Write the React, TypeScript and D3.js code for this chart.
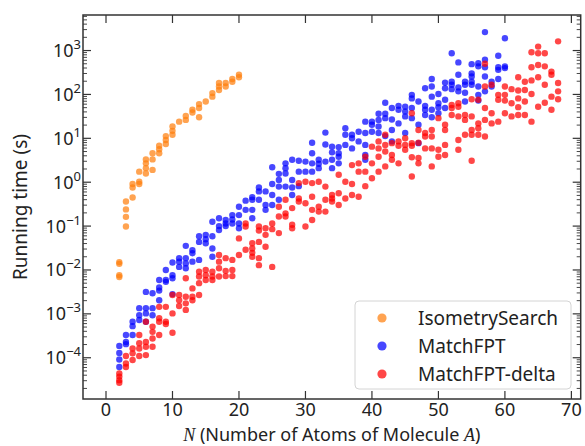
import React from "react";
import * as d3 from "d3";

// values are log10(running time in seconds), grouped by N
const isometryLog: [number, number[]][] = [
  [2, [-1.82, -1.86, -2.12, -2.16]],
  [3, [-0.44, -0.62, -0.79, -1.01]],
  [4, [-0.04, -0.12, -0.35]],
  [5, [0.24, 0.01, -0.04]],
  [6, [0.52, 0.43, 0.32, 0.2]],
  [7, [0.66, 0.52, 0.28]],
  [8, [0.83, 0.75, 0.66]],
  [9, [1.05, 0.96, 0.87]],
  [10, [1.27, 1.17, 1.08]],
  [11, [1.38]],
  [12, [1.51, 1.42]],
  [13, [1.65, 1.59]],
  [14, [1.78, 1.69, 1.48]],
  [15, [1.84]],
  [16, [2.03, 1.95]],
  [17, [2.26, 2.18, 2.1]],
  [18, [2.26, 2.18]],
  [19, [2.35, 2.29]],
  [20, [2.45, 2.39]],
];

const matchFptLog: [number, number[]][] = [
  [2, [-3.73, -3.89, -4.04, -4.21]],
  [3, [-3.48, -3.64, -3.69]],
  [4, [-3.18, -3.28, -3.48]],
  [5, [-2.87, -3.03, -3.14]],
  [6, [-2.5, -2.87, -2.99, -3.18]],
  [7, [-2.53, -2.87, -3.03]],
  [8, [-2.23, -2.4, -2.47, -2.69]],
  [9, [-2.0, -2.23, -2.27]],
  [10, [-1.83, -2.12, -2.19, -2.55]],
  [11, [-1.73, -1.81, -1.93]],
  [12, [-1.45, -1.73, -1.85, -1.96]],
  [13, [-1.55, -1.62, -1.81]],
  [14, [-1.23, -1.36, -1.77]],
  [15, [-1.2, -1.3, -1.39]],
  [16, [-0.9, -1.23, -1.51, -1.7]],
  [17, [-0.82, -1.0, -1.09]],
  [18, [-0.86, -0.94, -1.0]],
  [19, [-0.75, -0.85, -0.94]],
  [20, [-0.56, -0.75, -0.94, -1.05]],
  [21, [-0.42, -0.63]],
  [22, [-0.34, -0.4, -0.63, -0.82]],
  [23, [-0.12, -0.21, -0.4]],
  [24, [-0.21, -0.52, -0.63]],
  [25, [0.34, -0.04, -0.29, -0.52]],
  [26, [0.19, 0.05, -0.1, -0.4]],
  [27, [0.43, 0.32, 0.2, -0.1]],
  [28, [0.51, 0.05, -0.12, -0.29]],
  [29, [0.49, 0.24, -0.09]],
  [30, [0.47, 0.24]],
  [31, [0.9, 0.66, 0.43, 0.24]],
  [32, [0.51, 0.42, 0.32]],
  [33, [1.13, 0.86, 0.47]],
  [34, [0.81, 0.68, 0.51, 0.32]],
  [35, [0.8, 0.66, 0.58, 0.43]],
  [36, [1.23, 1.08, 0.85]],
  [37, [1.08, 1.0, 0.77]],
  [38, [1.15, 0.93]],
  [39, [1.38, 1.12, 0.85, 0.62, 0.51]],
  [40, [1.38, 1.31, 1.15]],
  [41, [1.56, 1.42, 1.27, 1.12]],
  [42, [1.81, 1.56, 1.46, 1.05]],
  [43, [1.69, 1.43, 1.19, 0.93]],
  [44, [1.74, 1.65, 1.34]],
  [45, [1.72, 1.61, 1.5, 1.12]],
  [46, [1.99, 1.91, 1.69, 1.46]],
  [47, [1.84, 1.31, 0.89]],
  [48, [2.14, 1.74, 1.65, 1.53]],
  [49, [2.35, 2.18, 1.95, 1.65, 1.48]],
  [50, [2.01, 1.8, 1.71, 1.57]],
  [51, [2.27, 2.14, 1.88, 1.69]],
  [52, [2.94, 2.29, 2.22, 2.12]],
  [53, [2.73, 2.45, 2.16, 2.07]],
  [54, [2.29, 2.22, 2.04, 1.84]],
  [55, [2.69, 2.48, 2.41, 2.29, 2.22]],
  [56, [2.71, 2.64, 2.18, 1.99, 1.86]],
  [57, [3.42, 2.79, 2.62, 2.41, 2.07]],
  [58, [2.29, 2.18]],
  [59, [2.88, 2.62, 2.56, 2.35]],
  [60, [3.28, 2.64, 2.6]],
];

const matchFptDeltaLog: [number, number[]][] = [
  [2, [-4.36, -4.43, -4.51, -4.57]],
  [3, [-3.96, -4.13, -4.21]],
  [4, [-3.79, -3.9, -4.05]],
  [5, [-3.48, -3.67, -3.79, -3.96]],
  [6, [-3.18, -3.64, -3.75, -3.94]],
  [7, [-3.29, -3.41, -3.56, -3.75]],
  [8, [-2.84, -3.1, -3.18, -3.48]],
  [9, [-2.84, -3.18, -3.23]],
  [10, [-2.57, -2.99, -3.43]],
  [11, [-2.57, -2.69, -2.82]],
  [12, [-2.19, -2.61, -2.76, -2.91]],
  [13, [-2.42, -2.61, -2.69]],
  [14, [-2.04, -2.15, -2.3, -2.57]],
  [15, [-2.0, -2.12, -2.23]],
  [16, [-2.04, -2.15, -2.23]],
  [17, [-1.66, -1.81, -1.96, -2.15]],
  [18, [-1.73, -2.02, -2.14]],
  [19, [-1.77, -2.0, -2.14]],
  [20, [-1.28, -1.66]],
  [21, [-0.94, -1.01, -1.54]],
  [22, [-1.39, -1.51, -1.61, -1.7]],
  [23, [-1.01, -1.1, -1.36, -1.73, -1.89]],
  [24, [-1.05, -1.2, -1.47]],
  [25, [-0.94, -1.07, -1.93]],
  [26, [-0.56, -0.78, -1.16]],
  [27, [-0.4, -0.71, -0.78]],
  [28, [-0.59, -0.97, -1.05]],
  [29, [-0.02, -0.37, -0.44]],
  [30, [0.01, -0.48, -1.01]],
  [31, [-0.02, -0.33, -0.63, -0.86]],
  [32, [0.01, -0.56, -0.67]],
  [33, [-0.1, -0.4, -0.67]],
  [34, [-0.29, -0.37, -0.44]],
  [35, [0.17, -0.25, -0.52]],
  [36, [0.01, -0.37]],
  [37, [0.39, -0.04, -0.29]],
  [38, [0.43, 0.24, -0.33]],
  [39, [0.58, 0.24, -0.09]],
  [40, [0.81, 0.43, 0.09]],
  [41, [0.93, 0.77, 0.58, 0.24]],
  [42, [1.08, 0.85, 0.7, 0.36]],
  [43, [0.89, 0.62, 0.51]],
  [44, [0.93, 0.83, 0.43]],
  [45, [1.0, 0.85, 0.74]],
  [46, [1.57, 0.89, 0.83, 0.57, 0.13]],
  [47, [1.19, 0.9, 0.55, 0.43]],
  [48, [1.12, 1.04, 0.77]],
  [49, [1.19, 1.04, 0.77, 0.36]],
  [50, [1.46, 0.74, 0.58]],
  [51, [1.31, 1.19, 0.85, 0.62]],
  [52, [1.76, 1.69, 1.53]],
  [53, [1.8, 1.72, 1.5, 0.96, 0.74]],
  [54, [1.53, 1.42, 1.08]],
  [55, [1.89, 1.5, 1.19, 1.08, 0.49]],
  [56, [1.88, 1.34, 1.23, 1.08]],
  [57, [2.7, 2.18, 1.69, 1.42, 1.04]],
  [58, [2.22, 1.57, 1.34]],
  [59, [1.99, 1.88, 1.38]],
  [60, [2.18, 1.99, 1.86, 1.57]],
  [61, [2.12, 1.8, 1.5]],
  [62, [2.39, 2.09, 1.91, 1.71, 1.53]],
  [63, [2.29, 2.1, 1.84, 1.53]],
  [64, [2.96, 2.62, 2.32, 2.01, 1.38]],
  [65, [3.09, 2.94, 2.67, 2.39, 1.72]],
  [66, [2.94, 2.64, 2.22, 1.81]],
  [67, [2.52, 2.45, 1.95, 1.65]],
  [68, [3.21, 2.26, 2.07, 1.89]],
];

const seriesNames = ["IsometrySearch", "MatchFPT", "MatchFPT-delta"];
const seriesColors = ["#ff7f0e", "#0000ff", "#ff0000"];
const seriesData = [isometryLog, matchFptLog, matchFptDeltaLog];

const xTicks = [0, 10, 20, 30, 40, 50, 60, 70];
const yExponents = [-4, -3, -2, -1, 0, 1, 2, 3];

const W = 585;
const H = 446;
const margin = { top: 15, right: 4.3, bottom: 47, left: 83 };
const FONT = "'Noto Sans', 'DejaVu Sans', sans-serif";

export default function App() {
  const x = d3
    .scaleLinear()
    .domain([-3.46, 71.4])
    .range([margin.left, W - margin.right]);
  const y = d3
    .scaleLog()
    .domain([Math.pow(10, -4.94), Math.pow(10, 3.81)])
    .range([H - margin.bottom, margin.top]);

  const [y0, y1] = y.range();
  const [x0, x1] = x.range();

  const points = seriesData.map((rows) =>
    rows.flatMap(([n, vals]) => vals.map((v) => ({ n, t: Math.pow(10, v) })))
  );

  // minor ticks 2..9 x 10^k inside the domain
  const minor: number[] = [];
  for (let k = -5; k <= 3; k++) {
    for (let m = 2; m <= 9; m++) {
      const v = m * Math.pow(10, k);
      if (v > y.domain()[0] && v < y.domain()[1]) minor.push(v);
    }
  }

  const tickColor = "#333";

  return (
    <svg
      width={W}
      height={H}
      style={{ position: "absolute", left: 0, top: 0, background: "white" }}
      fontFamily={FONT}
    >
      {/* points */}
      {points.map((pts, i) => (
        <g key={seriesNames[i]} fill={seriesColors[i]} fillOpacity={0.72}>
          {pts.map((d, j) => (
            <circle key={j} cx={x(d.n)} cy={y(d.t)} r={3.2} />
          ))}
        </g>
      ))}

      {/* x ticks, bottom and top, pointing inward */}
      {xTicks.map((t) => (
        <g key={t} stroke={tickColor} strokeWidth={1.2}>
          <line x1={x(t)} x2={x(t)} y1={y0} y2={y0 - 8} />
          <line x1={x(t)} x2={x(t)} y1={y1} y2={y1 + 8} />
        </g>
      ))}
      {xTicks.map((t) => (
        <text
          key={"xl" + t}
          x={x(t)}
          y={415.5}
          textAnchor="middle"
          fontSize={18}
          fill="#222"
        >
          {t}
        </text>
      ))}

      {/* y ticks, left and right */}
      {yExponents.map((e) => {
        const yy = y(Math.pow(10, e));
        return (
          <g key={e} stroke={tickColor} strokeWidth={1.2}>
            <line x1={x0} x2={x0 + 8} y1={yy} y2={yy} />
            <line x1={x1} x2={x1 - 8} y1={yy} y2={yy} />
          </g>
        );
      })}
      {minor.map((v, i) => (
        <g key={"m" + i} stroke={tickColor} strokeWidth={0.9}>
          <line x1={x0} x2={x0 + 4} y1={y(v)} y2={y(v)} />
          <line x1={x1} x2={x1 - 4} y1={y(v)} y2={y(v)} />
        </g>
      ))}
      {yExponents.map((e) => (
        <text
          key={"yl" + e}
          x={81}
          y={y(Math.pow(10, e)) + 6.5}
          textAnchor="end"
          fontSize={18}
          fill="#222"
        >
          10
          <tspan dy={-8} fontSize={13}>
            {e < 0 ? "\u2212" + Math.abs(e) : String(e)}
          </tspan>
        </text>
      ))}

      {/* frame */}
      <rect
        x={x0}
        y={y1}
        width={x1 - x0}
        height={y0 - y1}
        fill="none"
        stroke={tickColor}
        strokeWidth={1.5}
      />

      {/* axis labels */}
      <text
        transform={`translate(27,${(y0 + y1) / 2}) rotate(-90)`}
        textAnchor="middle"
        fontSize={19}
        fill="#222"
      >
        Running time (s)
      </text>
      <text
        x={(x0 + x1) / 2}
        y={440.5}
        textAnchor="middle"
        fontSize={18}
        fill="#222"
      >
        <tspan fontFamily="'Liberation Serif', serif" fontStyle="italic">
          N
        </tspan>
        <tspan> (Number of Atoms of Molecule </tspan>
        <tspan fontFamily="'Liberation Serif', serif" fontStyle="italic">
          A
        </tspan>
        <tspan>)</tspan>
      </text>

      {/* legend */}
      <g>
        <rect
          x={355}
          y={301}
          width={216}
          height={88}
          rx={4}
          fill="white"
          fillOpacity={0.85}
          stroke="#d4d4d4"
          strokeWidth={1}
        />
        {seriesNames.map((name, i) => (
          <g key={name}>
            <circle
              cx={382}
              cy={318 + i * 28}
              r={4.6}
              fill={seriesColors[i]}
              fillOpacity={0.72}
            />
            <text x={418} y={325 + i * 28} fontSize={19} fill="#222">
              {name}
            </text>
          </g>
        ))}
      </g>
    </svg>
  );
}
